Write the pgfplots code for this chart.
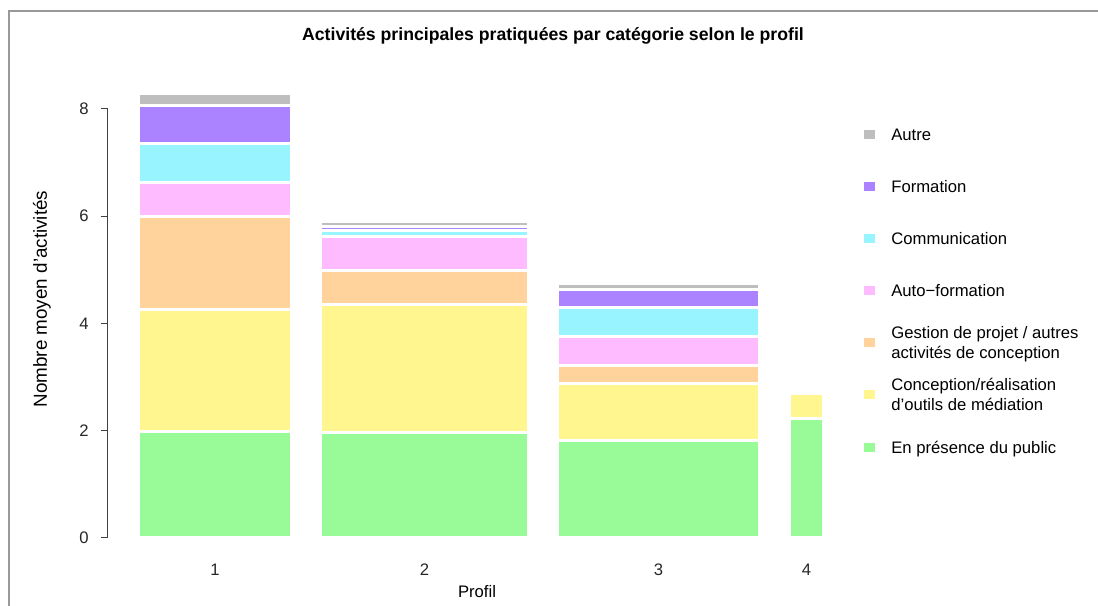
\documentclass[border=0pt]{standalone}
\usepackage{fontspec}
\setmainfont{Liberation Sans}
\usepackage{pgfplots}
\pgfplotsset{compat=1.18}

\definecolor{cPub}{RGB}{152,251,152}
\definecolor{cOut}{RGB}{255,246,143}
\definecolor{cGes}{RGB}{255,211,155}
\definecolor{cAuto}{RGB}{255,187,255}
\definecolor{cCom}{RGB}{152,245,255}
\definecolor{cFor}{RGB}{171,130,255}
\definecolor{cAut}{RGB}{190,190,190}

% one axis per bar, all with the same units so they line up
\pgfplotsset{
  profil/.style={x=0.6pt, y=32.175pt, xmin=108, xmax=846, ymin=0, ymax=8,
    clip=false, ybar stacked, bar width=#1},
  seg/.style={fill=#1, draw=white, line width=1.8pt},
}
\newcommand\LE[1]{\begin{tabular}{@{}l@{}}#1\end{tabular}}

\begin{document}
\begin{tikzpicture}
\draw[black!40, line width=1.2pt] (-59.4pt,-40.8pt) -- (-59.4pt,316.2pt) -- (594pt,316.2pt);

% profil 1 (carries axes, labels and legend)
\begin{axis}[profil=153,
  axis y line*=left, axis x line*=bottom,
  x axis line style={draw=none},
  y axis line style={black!75, line width=0.6pt},
  ytick={0,2,4,6,8},
  xtick={215,424.5,658.5,806.5}, xticklabels={1,2,3,4},
  tick align=outside, major tick length=4.2pt,
  xtick style={draw=none},
  ytick style={black!75, line width=0.6pt},
  /pgf/number format/assume math mode=true,
  tick label style={font=\fontsize{10}{12}\selectfont, text=black!85, inner sep=0pt},
  xticklabel style={anchor=center, yshift=-15pt},
  yticklabel style={anchor=east, xshift=-7.2pt},
  title={Activités principales pratiquées par catégorie selon le profil},
  title style={font=\bfseries\fontsize{10.6}{12}\selectfont, at={(axis description cs:0.603,1.1469)}, anchor=center},
  xlabel={Profil},
  xlabel style={font=\fontsize{10}{12}\selectfont, at={(axis description cs:0.5,-0.1259)}, anchor=center},
  ylabel={Nombre moyen d'activités},
  ylabel style={font=\fontsize{11.3}{13}\selectfont, at={(axis description cs:-0.0894,0.557)}, anchor=center},
  legend style={at={(axis description cs:1.0244,0.9985)}, anchor=north west,
    draw=none, fill=none, inner sep=0pt, row sep=0pt, column sep=9.6pt,
    nodes={inner sep=0pt, anchor=west, text height=18.15pt, text depth=13.15pt,
      font=\fontsize{10}{12}\selectfont}},
  legend cell align=left,
  reverse legend,
  legend image code/.code={\fill[#1,draw=none] (0pt,-1.5pt) rectangle (6.6pt,3.9pt);},
]
\addplot[seg=cPub]  coordinates {(215,1.98)}; \addlegendentry{\LE{En présence du public}}
\addplot[seg=cOut]  coordinates {(215,2.29)}; \addlegendentry{\LE{Conception/réalisation\\d'outils de médiation}}
\addplot[seg=cGes]  coordinates {(215,1.73)}; \addlegendentry{\LE{Gestion de projet / autres\\activités de conception}}
\addplot[seg=cAuto] coordinates {(215,0.62)}; \addlegendentry{\LE{Auto−formation}}
\addplot[seg=cCom]  coordinates {(215,0.73)}; \addlegendentry{\LE{Communication}}
\addplot[seg=cFor]  coordinates {(215,0.71)}; \addlegendentry{\LE{Formation}}
\addplot[seg=cAut]  coordinates {(215,0.22)}; \addlegendentry{\LE{Autre}}
\end{axis}

% profil 2
\begin{axis}[profil=208, hide axis]
\addplot[seg=cPub]  coordinates {(424.5,1.96)};
\addplot[seg=cOut]  coordinates {(424.5,2.40)};
\addplot[seg=cGes]  coordinates {(424.5,0.62)};
\addplot[seg=cAuto] coordinates {(424.5,0.64)};
\addplot[seg=cCom]  coordinates {(424.5,0.11)};
\addplot[seg=cFor]  coordinates {(424.5,0.08)};
\addplot[seg=cAut]  coordinates {(424.5,0.09)};
\end{axis}

% profil 3
\begin{axis}[profil=202, hide axis]
\addplot[seg=cPub]  coordinates {(658.5,1.81)};
\addplot[seg=cOut]  coordinates {(658.5,1.07)};
\addplot[seg=cGes]  coordinates {(658.5,0.34)};
\addplot[seg=cAuto] coordinates {(658.5,0.54)};
\addplot[seg=cCom]  coordinates {(658.5,0.54)};
\addplot[seg=cFor]  coordinates {(658.5,0.33)};
\addplot[seg=cAut]  coordinates {(658.5,0.12)};
\end{axis}

% profil 4
\begin{axis}[profil=34, hide axis]
\addplot[seg=cPub]  coordinates {(806.5,2.22)};
\addplot[seg=cOut]  coordinates {(806.5,0.47)};
\end{axis}

\pgfresetboundingbox
\path (-64.8pt,-40.8pt) rectangle (594pt,322.8pt);
\end{tikzpicture}
\end{document}
